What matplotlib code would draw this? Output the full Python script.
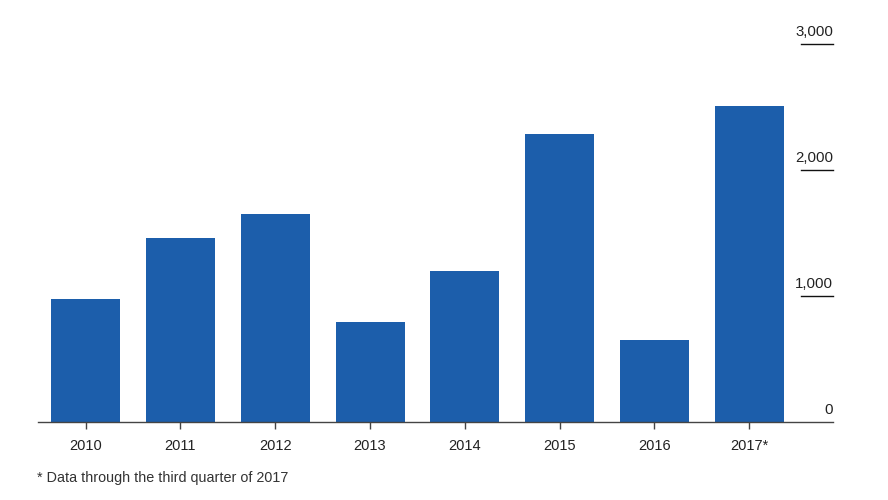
import numpy as np
import matplotlib
matplotlib.use("Agg")
import matplotlib.pyplot as plt

plt.rcParams['font.family'] = ['Liberation Sans', 'DejaVu Sans']

years = ['2010', '2011', '2012', '2013', '2014', '2015', '2016', '2017*']
values = [980, 1460, 1648, 796, 1196, 2288, 651, 2505]
yticks = [0, 1000, 2000, 3000]
ylabels = ['0', '1,000', '2,000', '3,000']
footnote = '* Data through the third quarter of 2017'

bar_color = '#1c5eab'
text_color = '#222222'

fig = plt.figure(figsize=(8.88, 5.0), dpi=100)
ax = fig.add_axes([38/888, 78/500, (833-38)/888, (422-44)/500])

x = np.arange(len(years))
ax.bar(x, values, width=0.728, color=bar_color, zorder=2)

ax.set_xlim(-0.503, 7.885)
ax.set_ylim(0, 3000)

# only the bottom line is kept
for side in ['top', 'right', 'left']:
    ax.spines[side].set_visible(False)
ax.spines['bottom'].set_color('#444444')
ax.spines['bottom'].set_linewidth(1.0)
ax.spines['bottom'].set_zorder(3)

ax.set_xticks(x)
ax.set_xticklabels(years, fontsize=10.5, color=text_color)
ax.tick_params(axis='x', length=5, width=1.0, color='#444444', pad=7)
ax.set_yticks([])

# right-side value labels with short underline
trans = ax.get_yaxis_transform()
for v, lab in zip(yticks, ylabels):
    if v > 0:
        ax.plot([0.96, 1.0], [v, v], transform=trans, color='#111111',
                lw=1.0, clip_on=False)
    ax.annotate(lab, xy=(1.0, v), xycoords=trans, xytext=(0, 6),
                textcoords='offset points', ha='right', va='baseline',
                fontsize=10.8, color=text_color, annotation_clip=False)

fig.text(37/888, 1 - 478/500, footnote, fontsize=10.4, color='#333333',
         ha='left', va='center')

fig.savefig('out.png', dpi=100)
